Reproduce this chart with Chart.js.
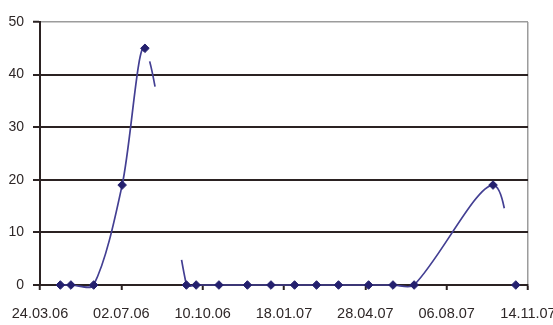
<!DOCTYPE html>
<html>
<head>
<meta charset="utf-8">
<script src="https://cdn.jsdelivr.net/npm/chart.js@4.4.1/dist/chart.umd.min.js"></script>
<style>
  html, body { margin: 0; padding: 0; background: #ffffff; }
  #wrap { width: 553px; height: 325px; }
</style>
</head>
<body>
<div id="wrap"><canvas id="chart" width="553" height="325"></canvas></div>
<script>
// Axis tick dates (dd.mm.yy), 100 days apart
const tickLabels = ['24.03.06', '02.07.06', '10.10.06', '18.01.07', '28.04.07', '06.08.07', '14.11.07'];

// Sample dates and measured values
const sampleDates = [
  '18.04.06', '01.05.06', '29.05.06', '03.07.06', '31.07.06', '20.09.06',
  '02.10.06', '30.10.06', '04.12.06', '02.01.07', '31.01.07', '27.02.07',
  '26.03.07', '02.05.07', '01.06.07', '27.06.07', '02.10.07', '30.10.07'
];
const sampleValues = [
  0, 0, 0, 19, 45, 0,
  0, 0, 0, 0, 0, 0,
  0, 0, 0, 0, 19, 0
];

const yMin = 0, yMax = 50, yStep = 10;

const DAY = 86400000;
function parseDMY(s) {
  const [d, m, y] = s.split('.').map(Number);
  return Date.UTC(2000 + y, m - 1, d);
}
const origin = parseDMY(tickLabels[0]);
const tickDays = tickLabels.map(t => (parseDMY(t) - origin) / DAY);
const points = sampleDates.map((s, i) => ({ x: (parseDMY(s) - origin) / DAY, y: sampleValues[i] }));

// Line pieces that fade out in the printed curve (dash runs per segment start index)
const fadedRuns = { 4: [0, 14, 26, 175, 40], 16: [27, 600] };

const ink = '#2b2222';
const textColor = '#2e2727';
const frame = '#9c9c9c';

new Chart(document.getElementById('chart'), {
  type: 'line',
  data: {
    datasets: [{
      data: points,
      borderColor: '#433f93',
      borderWidth: 1.7,
      tension: 0.3,
      fill: false,
      pointStyle: 'rectRot',
      pointRadius: 4.3,
      pointBackgroundColor: '#24206e',
      pointBorderColor: '#24206e',
      pointBorderWidth: 1,
      clip: { left: 10, right: 10, top: 0, bottom: 7 },
      segment: {
        borderDash: ctx => fadedRuns[ctx.p0DataIndex]
      }
    }]
  },
  options: {
    responsive: false,
    devicePixelRatio: 1,
    animation: false,
    layout: { padding: { top: 22, right: 25, bottom: 0, left: 0 } },
    plugins: { legend: { display: false }, tooltip: { enabled: false } },
    elements: { line: { capBezierPoints: false } },
    scales: {
      x: {
        type: 'linear',
        min: tickDays[0],
        max: tickDays[tickDays.length - 1],
        afterBuildTicks: scale => { scale.ticks = tickDays.map(v => ({ value: v })); },
        afterFit: scale => { scale.height = 40; scale.paddingLeft = 0; scale.paddingRight = 0; },
        ticks: {
          autoSkip: false,
          maxRotation: 0,
          padding: 15,
          color: textColor,
          font: { family: '"Liberation Sans", Arial, sans-serif', size: 14.5 },
          callback: (v, i) => tickLabels[i]
        },
        grid: {
          drawOnChartArea: true,
          color: ctx => (ctx.tick && ctx.tick.value === tickDays[tickDays.length - 1]) ? frame : 'rgba(0,0,0,0)',
          lineWidth: 1.5,
          tickColor: ink,
          tickLength: 5,
          tickWidth: 2
        },
        border: { color: ink, width: 2 }
      },
      y: {
        min: yMin,
        max: yMax,
        afterFit: scale => { scale.width = 40; scale.paddingTop = 0; scale.paddingBottom = 0; },
        ticks: {
          stepSize: yStep,
          padding: 9,
          color: textColor,
          font: { family: '"Liberation Sans", Arial, sans-serif', size: 14 }
        },
        grid: {
          color: ctx => (ctx.tick && ctx.tick.value === yMax) ? frame : ink,
          lineWidth: ctx => (ctx.tick && ctx.tick.value === yMax) ? 1.5 : 2,
          tickColor: ink,
          tickLength: 7,
          tickWidth: 2
        },
        border: { color: ink, width: 2 }
      }
    }
  }
});
</script>
</body>
</html>
